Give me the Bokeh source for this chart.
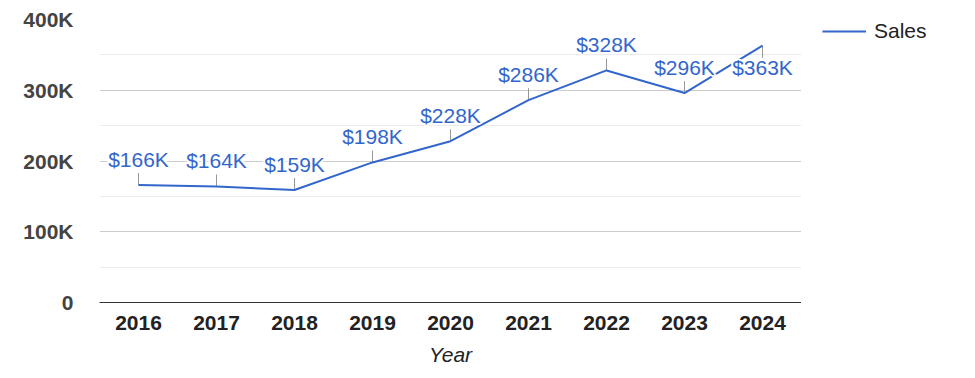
from bokeh.plotting import figure
from bokeh.layouts import row
from bokeh.models import (ColumnDataSource, FactorRange, FixedTicker, Legend, LegendItem,
                          Range1d)
from bokeh.embed import file_html
from bokeh.resources import INLINE
from bokeh.core.properties import value

# ---- data ----
years = ["2016", "2017", "2018", "2019", "2020", "2021", "2022", "2023", "2024"]
sales = [166000, 164000, 159000, 198000, 228000, 286000, 328000, 296000, 363000]
sales_labels = ["$166K", "$164K", "$159K", "$198K", "$228K", "$286K", "$328K", "$296K", "$363K"]
series_name = "Sales"
y_ticks = [0, 100000, 200000, 300000, 400000]
y_tick_labels = ["0", "100K", "200K", "300K", "400K"]
y_minor_ticks = [50000, 150000, 250000, 350000]

FONT = "Liberation Sans"
BLUE = "#3366cc"

p = figure(width=801, height=378, x_range=FactorRange(*years, range_padding=0),
           y_range=Range1d(0, 400000), output_backend="svg", toolbar_location=None,
           min_border_left=99, min_border_right=0, min_border_top=19, min_border_bottom=76)
p.outline_line_color = None
p.background_fill_color = "white"

# grid
p.xgrid.grid_line_color = None
p.ygrid.ticker = FixedTicker(ticks=y_ticks, minor_ticks=y_minor_ticks)
p.ygrid.grid_line_color = "#cccccc"
p.ygrid.minor_grid_line_color = "#ebebeb"

# y axis
p.yaxis.ticker = FixedTicker(ticks=y_ticks, minor_ticks=[])
p.yaxis.major_label_overrides = {t: l for t, l in zip(y_ticks, y_tick_labels)}
p.yaxis.axis_line_color = None
p.yaxis.major_tick_line_color = None
p.yaxis.minor_tick_line_color = None
p.yaxis.major_label_standoff = 20
p.yaxis.major_label_text_font = FONT
p.yaxis.major_label_text_font_size = "21px"
p.yaxis.major_label_text_font_style = "bold"
p.yaxis.major_label_text_color = "#444444"

# x axis
p.xaxis.axis_line_color = "#333333"
p.xaxis.major_tick_line_color = None
p.xaxis.minor_tick_line_color = None
p.xaxis.major_label_standoff = 7
p.xaxis.major_label_text_font = FONT
p.xaxis.major_label_text_font_size = "21px"
p.xaxis.major_label_text_font_style = "bold"
p.xaxis.major_label_text_color = "#222222"
p.xaxis.axis_label = "Year"
p.xaxis.axis_label_text_font = FONT
p.xaxis.axis_label_text_font_size = "21px"
p.xaxis.axis_label_text_font_style = "italic"
p.xaxis.axis_label_text_color = "#222222"
p.xaxis.axis_label_standoff = 10

# stems
px_unit = 400000 / 283.0
stem = 12 * px_unit
above = ColumnDataSource(dict(x=years[:-1], y=sales[:-1], t=sales_labels[:-1],
                              y1=[v + stem for v in sales[:-1]]))
below = ColumnDataSource(dict(x=years[-1:], y=sales[-1:], t=sales_labels[-1:],
                              y1=[v - stem for v in sales[-1:]]))
for src in (above, below):
    p.segment(x0="x", y0="y", x1="x", y1="y1", source=src, line_color="#999999", line_width=1)

src = ColumnDataSource(dict(x=years, y=sales))
line = p.line("x", "y", source=src, line_color=BLUE, line_width=2)

# halos + labels
for s, off in ((above, -26), (below, 22)):
    for dx, dy in ((-2, 0), (2, 0), (0, -2), (0, 2), (-1.5, -1.5), (1.5, 1.5), (-1.5, 1.5), (1.5, -1.5)):
        p.text(x="x", y="y", text="t", source=s, x_offset=dx, y_offset=off + dy,
               text_align="center", text_baseline="alphabetic", text_font=value(FONT),
               text_font_size="21px", text_color="white")
    p.text(x="x", y="y", text="t", source=s, y_offset=off,
           text_align="center", text_baseline="alphabetic", text_font=value(FONT),
           text_font_size="21px", text_color=BLUE)

# legend panel (separate small figure to the right of the plot area)
lg = figure(width=174, height=378, x_range=Range1d(0, 1), y_range=Range1d(0, 1),
            output_backend="svg", toolbar_location=None, x_axis_location=None,
            y_axis_location=None, min_border_left=21, min_border_top=18,
            min_border_right=0, min_border_bottom=0)
lg.outline_line_color = None
lg.xgrid.visible = False
lg.ygrid.visible = False
# swatch renderer: lies outside the legend panel's ranges, so only its legend glyph shows
swatch = lg.line(x=[5, 6], y=[5, 6], line_color=BLUE, line_width=2)
legend = Legend(items=[LegendItem(label=series_name, renderers=[swatch])], location="top_left",
                glyph_width=44, label_standoff=8, padding=0, margin=0, spacing=0,
                border_line_color=None, background_fill_alpha=0,
                label_text_font=FONT, label_text_font_size="21px", label_text_color="#222222")
lg.add_layout(legend, "center")

layout = row(p, lg, spacing=0)
open("out.html", "w").write(file_html(layout, INLINE))
